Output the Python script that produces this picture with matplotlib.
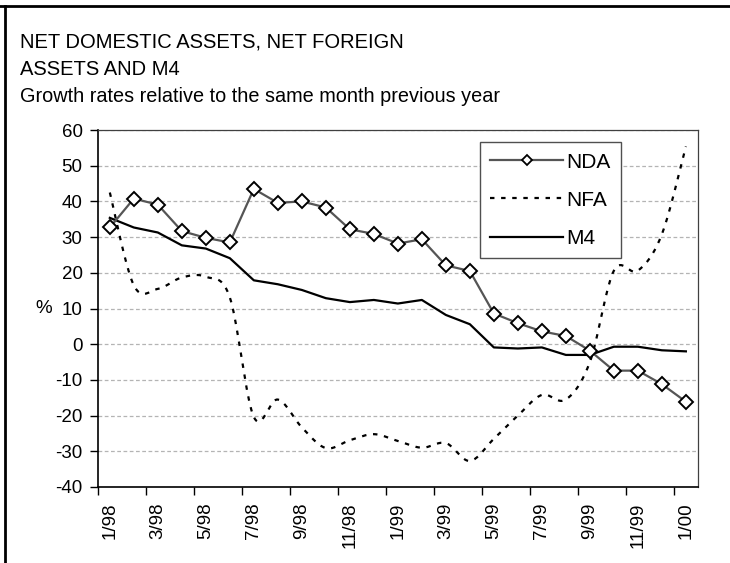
import numpy as np
import matplotlib
matplotlib.use('Agg')
import matplotlib.pyplot as plt
from matplotlib.lines import Line2D

plt.rcParams['font.family'] = ['Liberation Sans', 'DejaVu Sans']

# Monthly data, 1/98 .. 1/00 (growth rates, %)
months = ['1/98', '2/98', '3/98', '4/98', '5/98', '6/98', '7/98', '8/98', '9/98',
          '10/98', '11/98', '12/98', '1/99', '2/99', '3/99', '4/99', '5/99', '6/99',
          '7/99', '8/99', '9/99', '10/99', '11/99', '12/99', '1/00']
nda = [32.7, 40.8, 39.1, 31.7, 29.8, 28.5, 43.5, 39.6, 40.0, 38.3, 32.2, 30.9, 28.2,
       29.4, 22.1, 20.5, 8.6, 5.9, 3.6, 2.3, -1.8, -7.4, -7.4, -11.2, -16.1]
nfa = [42.5, 16.5, 15.5, 18.7, 18.9, 13.1, -20.4, -15.5, -23.3, -29.1, -26.9, -25.2,
       -27.1, -29.0, -27.7, -32.7, -26.5, -20.0, -14.2, -15.5, -5.0, 20.6, 20.6, 30.8, 55.4]
m4 = [35.4, 32.7, 31.3, 27.7, 26.8, 24.1, 17.9, 16.8, 15.2, 12.9, 11.8, 12.4, 11.4,
      12.4, 8.2, 5.6, -0.9, -1.2, -0.9, -3.0, -3.0, -0.7, -0.7, -1.7, -2.0]
y_ticks = [-40, -30, -20, -10, 0, 10, 20, 30, 40, 50, 60]


def smooth(x, y, n=20):
    # Excel-style smoothed line (Catmull-Rom as cubic Bezier)
    x = np.asarray(x, float)
    y = np.asarray(y, float)
    px = np.concatenate([[x[0]], x, [x[-1]]])
    py = np.concatenate([[y[0]], y, [y[-1]]])
    t = np.linspace(0, 1, n, endpoint=False)
    xs, ys = [], []
    for i in range(1, len(px) - 2):
        p0 = np.array([px[i], py[i]])
        p3 = np.array([px[i + 1], py[i + 1]])
        c1 = p0 + (p3 - np.array([px[i - 1], py[i - 1]])) / 6
        c2 = p3 - (np.array([px[i + 2], py[i + 2]]) - p0) / 6
        b = ((1 - t) ** 3)[:, None] * p0 + (3 * (1 - t) ** 2 * t)[:, None] * c1 \
            + (3 * (1 - t) * t ** 2)[:, None] * c2 + (t ** 3)[:, None] * p3
        xs.extend(b[:, 0])
        ys.extend(b[:, 1])
    xs.append(x[-1])
    ys.append(y[-1])
    return xs, ys


x = np.arange(len(months))

fig = plt.figure(figsize=(7.3, 5.63), dpi=100)
ax = fig.add_axes([0.134, 0.135, 0.822, 0.634])

ax.grid(axis='y', color='#b4b4b4', linestyle=(0, (3, 2)), linewidth=0.9)
ax.set_axisbelow(True)

sx, sy = smooth(x, nfa)
ax.plot(sx, sy, color='black', linestyle=(0, (2, 3)), linewidth=1.6, label='NFA')
ax.plot(x, m4, color='black', linewidth=1.6, label='M4')
ax.plot(x, nda, color='#555555', linewidth=1.6, marker='D', markersize=7,
        markerfacecolor='white', markeredgecolor='black', markeredgewidth=1.4,
        label='NDA')

ax.set_xlim(-0.5, len(months) - 0.5)
ax.set_ylim(-40, 60)
ax.set_yticks(y_ticks)
ax.set_yticklabels([str(v) for v in y_ticks], fontsize=13.5)

# ticks on category boundaries, labels on every second month
ax.set_xticks(np.arange(-0.5, len(months) - 1, 2))
ax.set_xticklabels([])
ax.set_xticks(x[::2], minor=True)
ax.set_xticklabels(months[::2], minor=True, rotation=90, fontsize=13.5)
ax.tick_params(axis='x', which='minor', length=0, pad=11)
ax.tick_params(axis='x', which='major', length=6, width=1)
ax.tick_params(axis='y', length=6, width=1, pad=5)

for s in ['left', 'bottom']:
    ax.spines[s].set_linewidth(1.2)
for s in ['top', 'right']:
    ax.spines[s].set_color('#404040')
    ax.spines[s].set_linewidth(0.9)

ax.text(-0.077, 10, '%', transform=ax.get_yaxis_transform(), fontsize=13.5,
        ha='right', va='center')

handles = [
    Line2D([], [], color='#555555', linewidth=1.6, marker='D', markersize=5.5,
           markerfacecolor='white', markeredgecolor='black', markeredgewidth=1.3),
    Line2D([], [], color='black', linestyle=(0, (2, 3)), linewidth=1.6),
    Line2D([], [], color='black', linewidth=1.6),
]
leg = ax.legend(handles, ['NDA', 'NFA', 'M4'], loc='upper left',
                bbox_to_anchor=(0.637, 0.966), fontsize=15, frameon=True,
                fancybox=False, edgecolor='#505050', handlelength=3.5,
                labelspacing=0.92, borderpad=0.5, handletextpad=0.15,
                borderaxespad=0)
leg.get_frame().set_linewidth(1.0)
leg.get_frame().set_alpha(1)

fig.text(0.027, 0.925, 'NET DOMESTIC ASSETS, NET FOREIGN', fontsize=14.5, va='center')
fig.text(0.027, 0.876, 'ASSETS AND M4', fontsize=14.5, va='center')
fig.text(0.027, 0.828, 'Growth rates relative to the same month previous year',
         fontsize=14.3, va='center')

# outer frame (top and left edges)
fig.add_artist(Line2D([0, 1], [0.989, 0.989], color='black', linewidth=2,
                      transform=fig.transFigure))
fig.add_artist(Line2D([0.007, 0.007], [0, 0.989], color='black', linewidth=2,
                      transform=fig.transFigure))

fig.savefig('out.png', dpi=100)
